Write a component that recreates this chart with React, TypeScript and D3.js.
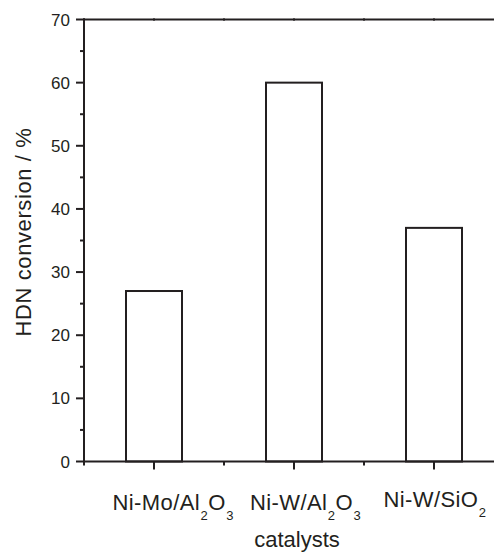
import React from "react";
import * as d3 from "d3";

// HDN conversion over three hydrotreating catalysts
const catalysts = ["Ni-Mo/Al_2O_3", "Ni-W/Al_2O_3", "Ni-W/SiO_2"];
const conversion = [27, 60, 37];
const yTicks = [0, 10, 20, 30, 40, 50, 60, 70];

const W = 494;
const H = 555;
const FONT = "'Liberation Sans', Arial, Helvetica, sans-serif";
const INK = "#231f20";

// label placement tweaks (start offset from category centre, baseline)
const labelDx = [-41.5, -44, -50.5];
const labelY = [510, 510, 506.7];

function Label({ text, x, y }: { text: string; x: number; y: number }) {
  const parts = text.split(/_(\d)/);
  const spans: React.ReactNode[] = [];
  let sub = false;
  parts.forEach((p, i) => {
    const isSub = i % 2 === 1;
    if (p === "") return;
    let dy = 0;
    if (isSub && !sub) dy = 10;
    if (!isSub && sub) dy = -10;
    sub = isSub;
    spans.push(
      <tspan key={i} dy={dy} fontSize={isSub ? 13 : 22} dx={isSub ? 0.5 : 0}>
        {p}
      </tspan>
    );
  });
  return (
    <text x={x} y={y} fontFamily={FONT} fill={INK} letterSpacing={0.4}>
      {spans}
    </text>
  );
}

export default function App() {
  const x = d3.scaleLinear().domain([0.5, 3.5]).range([84, 504]);
  const y = d3.scaleLinear().domain([0, 70]).range([461.5, 19.5]);
  const y0 = y(0);
  const yTop = y(70);
  const xLeft = x(0.5);
  const barHalf = 0.2;

  const minorY = d3.range(5, 70, 10);
  const majorX = d3.range(1, 4);
  const minorX = d3.range(0.5, 4, 1);

  return (
    <svg
      width={W}
      height={H}
      style={{ position: "absolute", left: 0, top: 0, background: "#fff" }}
    >
      <rect width={W} height={H} fill="#fff" />
      {/* bars */}
      {conversion.map((v, i) => (
        <rect
          key={i}
          x={x(i + 1 - barHalf)}
          y={y(v)}
          width={x(i + 1 + barHalf) - x(i + 1 - barHalf)}
          height={y0 - y(v)}
          fill="#fff"
          stroke={INK}
          strokeWidth={2}
        />
      ))}

      {/* left axis */}
      <line x1={xLeft} x2={xLeft} y1={yTop - 1} y2={y0 + 1} stroke={INK} strokeWidth={2} />
      {yTicks.map((t) => (
        <g key={t}>
          <line x1={xLeft - 8} x2={xLeft} y1={y(t)} y2={y(t)} stroke={INK} strokeWidth={2} />
          <text
            x={70}
            y={y(t)}
            dy="0.36em"
            textAnchor="end"
            fontFamily={FONT}
            fontSize={17}
            fill={INK}
          >
            {t}
          </text>
        </g>
      ))}
      {minorY.map((t) => (
        <line key={t} x1={xLeft - 4} x2={xLeft} y1={y(t)} y2={y(t)} stroke={INK} strokeWidth={2} />
      ))}

      {/* bottom axis */}
      <line x1={xLeft} x2={W + 20} y1={y0} y2={y0} stroke={INK} strokeWidth={2} />
      {majorX.map((c) => (
        <line key={c} x1={x(c)} x2={x(c)} y1={y0} y2={y0 + 8} stroke={INK} strokeWidth={2} />
      ))}
      {minorX.map((c) => (
        <line key={c} x1={x(c)} x2={x(c)} y1={y0} y2={y0 + 4} stroke={INK} strokeWidth={2} />
      ))}

      {/* top axis */}
      <line x1={xLeft} x2={W + 20} y1={yTop} y2={yTop} stroke={INK} strokeWidth={2} />
      {[...majorX, ...minorX].map((c) => (
        <line
          key={"t" + c}
          x1={x(c)}
          x2={x(c)}
          y1={yTop - 1.5}
          y2={yTop + 1.5}
          stroke={INK}
          strokeWidth={1.2}
        />
      ))}

      {/* category labels */}
      {catalysts.map((c, i) => (
        <Label key={c} text={c} x={x(i + 1) + labelDx[i]} y={labelY[i]} />
      ))}

      {/* axis titles */}
      <text
        x={297}
        y={547}
        textAnchor="middle"
        fontFamily={FONT}
        fontSize={22}
        fill={INK}
      >
        catalysts
      </text>
      <text
        transform={`translate(31,232) rotate(-90)`}
        textAnchor="middle"
        fontFamily={FONT}
        fontSize={22}
        letterSpacing={0.6}
        fill={INK}
      >
        HDN conversion / %
      </text>
    </svg>
  );
}
